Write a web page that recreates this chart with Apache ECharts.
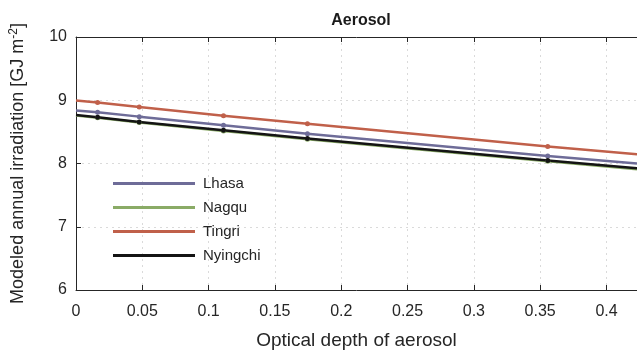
<!DOCTYPE html>
<html>
<head>
<meta charset="utf-8">
<script src="https://cdn.jsdelivr.net/npm/echarts@6/dist/echarts.min.js"></script>
<style>
  html, body { margin: 0; padding: 0; background: #fff; }
  #chart { width: 637px; height: 355px; }
</style>
</head>
<body>
<div id="chart"></div>
<script>
// optical depth of aerosol (first and last entries are the line ends, no marker)
const aod = [0, 0.0163, 0.0477, 0.1112, 0.1745, 0.3557, 0.423]
const siteNames = ["Lhasa", "Nagqu", "Tingri", "Nyingchi"]
const lhasa = [8.838, 8.812, 8.741, 8.606, 8.472, 8.117, 8.0]
const nagqu = [8.757, 8.722, 8.648, 8.515, 8.385, 8.036, 7.91]
const tingri = [8.997, 8.966, 8.895, 8.756, 8.627, 8.267, 8.148]
const nyingchi = [8.765, 8.73, 8.657, 8.525, 8.395, 8.046, 7.923]
const siteColors = ["#6e6c98", "#8aab66", "#c0604a", "#141414"]

const values = [lhasa, nagqu, tingri, nyingchi]
const font = "Liberation Sans"

let myChart = echarts.init(document.getElementById("chart"))

let series = []
siteNames.forEach((name, i) => {
  series.push({
    name: name,
    type: "line",
    data: values[i].map((v, j) => {
      let item = { value: [aod[j], v] }
      if (j == 0 || j == aod.length - 1) item.symbol = "none"
      return item
    }),
    symbol: "circle",
    symbolSize: 5,
    showSymbol: true,
    lineStyle: { width: 2.5, color: siteColors[i] },
    itemStyle: { color: siteColors[i] },
    animation: false,
    clip: true,
  })
})

const gridLine = { show: true, lineStyle: { color: "#dadada", type: [2, 4], width: 1 } }

myChart.setOption({
  animation: false,
  title: {
    text: "Aerosol",
    left: 356,
    textAlign: "center",
    top: 8,
    textStyle: { fontFamily: font, fontSize: 16, fontWeight: "bold", color: "#1a1a1a" },
  },
  legend: {
    orient: "vertical",
    left: 113,
    top: 176,
    padding: 0,
    icon: "rect",
    itemWidth: 82,
    itemHeight: 3,
    itemGap: 9,
    data: siteNames,
    textStyle: { fontFamily: font, fontSize: 15, lineHeight: 15, color: "#262626", padding: [0, 0, 0, 3] },
  },
  grid: { left: 75, right: 0, top: 37, bottom: 59, containLabel: false },
  xAxis: [
    {
      type: "value",
      min: 0,
      max: 0.423,
      interval: 0.05,
      name: "Optical depth of aerosol",
      nameLocation: "middle",
      nameGap: 41,
      nameTextStyle: { fontFamily: font, fontSize: 19, color: "#262626" },
      axisLine: { show: true, lineStyle: { color: "#262626", width: 1 } },
      axisTick: { show: true, inside: true, length: 5, lineStyle: { color: "#262626" } },
      axisLabel: { fontFamily: font, fontSize: 16, color: "#262626", margin: 14, showMaxLabel: false },
      splitLine: gridLine,
    },
    {
      type: "value",
      position: "top",
      min: 0,
      max: 0.423,
      interval: 0.05,
      axisLine: { show: true, lineStyle: { color: "#262626", width: 1 } },
      axisTick: { show: true, inside: true, length: 5, lineStyle: { color: "#262626" } },
      axisLabel: { show: false },
      splitLine: { show: false },
    },
  ],
  yAxis: {
    type: "value",
    min: 6,
    max: 10,
    interval: 1,
    name: "Modeled annual irradiation [GJ m{sup|-2}]",
    nameLocation: "middle",
    nameGap: 47,
    nameTextStyle: {
      fontFamily: font,
      fontSize: 18,
      color: "#262626",
      rich: {
        sup: { fontFamily: font, fontSize: 12, color: "#262626", verticalAlign: "top", padding: [0, 0, 9, 0] },
      },
    },
    axisLine: { show: true, lineStyle: { color: "#262626", width: 1 } },
    axisTick: { show: true, inside: true, length: 5, lineStyle: { color: "#262626" } },
    axisLabel: { fontFamily: font, fontSize: 16, color: "#262626", margin: 9 },
    splitLine: gridLine,
  },
  series: series,
})
</script>
</body>
</html>
